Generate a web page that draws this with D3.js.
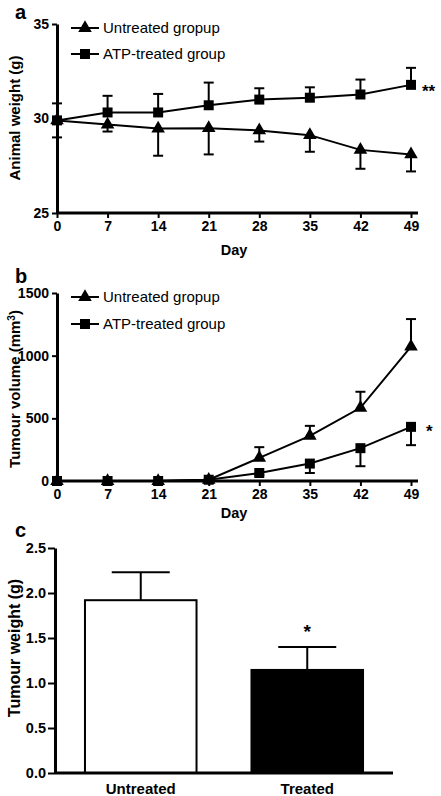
<!DOCTYPE html>
<html><head><meta charset="utf-8">
<script src="https://cdn.jsdelivr.net/npm/d3@7"></script>
<style>
body{margin:0;background:#fff;}
svg{display:block;font-family:"Liberation Sans",Arial,sans-serif;}
</style></head>
<body><svg id="c" width="441" height="796"></svg>
<script>
// ---- data ----
const days = [0, 7, 14, 21, 28, 35, 42, 49];
const weightUntreated = [29.9, 29.68, 29.47, 29.49, 29.37, 29.12, 28.34, 28.1];
const weightUntreatedErr = [0.9, 0.37, 1.44, 1.39, 0.59, 0.88, 1.0, 0.9];
const weightTreated = [29.9, 30.32, 30.32, 30.7, 31.0, 31.1, 31.27, 31.78];
const weightTreatedErr = [0.9, 0.88, 0.98, 1.2, 0.6, 0.55, 0.79, 0.9];
const volUntreated = [0, 0, 0, 10, 184, 360, 584, 1073];
const volUntreatedErr = [0, 0, 0, 5, 86, 80, 128, 219];
const volTreated = [0, 0, 0, 10, 64, 139, 262, 432];
const volTreatedErr = [0, 0, 0, 5, 15, 75, 144, 146];
const barCategories = ["Untreated", "Treated"];
const barValues = [1.92, 1.145];
const barErr = [0.31, 0.255];
const weightTicks = [25, 30, 35];
const volTicks = [0, 500, 1000, 1500];
const barTicks = [0, 0.5, 1.0, 1.5, 2.0, 2.5];
const seriesNames = ["Untreated gropup", "ATP-treated group"];

const svg = d3.select("#c");
const tri = d3.symbol().type(d3.symbolTriangle).size(80);
const sq = d3.symbol().type(d3.symbolSquare).size(100);
const LW = 2;

function styleAxis(g, fs) {
  g.selectAll("path.domain").attr("stroke", "#000").attr("stroke-width", 3);
  g.selectAll(".tick line").attr("stroke", "#000").attr("stroke-width", 2);
  g.selectAll(".tick text").attr("font-family", "Liberation Sans, Arial, sans-serif")
    .attr("font-weight", "bold").attr("font-size", fs).attr("fill", "#000");
}

function linePanel(opts) {
  const g = svg.append("g");
  const x = d3.scaleLinear().domain([0, 49]).range([57, 411]);
  const y = d3.scaleLinear().domain(opts.ydomain).range(opts.yrange);
  // axes
  const xa = g.append("g").attr("transform", `translate(0,${y(opts.ydomain[0])})`)
    .call(d3.axisBottom(x).tickValues(days).tickSize(5).tickSizeOuter(0).tickPadding(3));
  xa.select("path.domain").attr("d", `M${x(0)},0H${x(49) + 7}`);
  styleAxis(xa, 14);
  const ya = g.append("g").attr("transform", `translate(${x(0)},0)`)
    .call(d3.axisLeft(y).tickValues(opts.yticks).tickFormat(d3.format("d")).tickSize(5).tickSizeOuter(0).tickPadding(3));
  styleAxis(ya, 14);
  // series
  const series = [
    {v: opts.u, e: opts.ue, dir: opts.udir, sym: tri},
    {v: opts.t, e: opts.te, dir: opts.tdir, sym: sq}
  ];
  const line = d3.line().x((d, i) => x(days[i])).y(d => y(d));
  series.forEach(s => {
    g.append("path").datum(s.v).attr("d", line).attr("fill", "none")
      .attr("stroke", "#000").attr("stroke-width", LW);
    s.v.forEach((v, i) => {
      if (s.e[i] <= 0) return;
      const ye = y(v + s.dir * s.e[i]);
      g.append("line").attr("x1", x(days[i])).attr("x2", x(days[i]))
        .attr("y1", y(v)).attr("y2", ye).attr("stroke", "#000").attr("stroke-width", LW);
      g.append("line").attr("x1", x(days[i]) - 5).attr("x2", x(days[i]) + 5)
        .attr("y1", ye).attr("y2", ye).attr("stroke", "#000").attr("stroke-width", LW);
    });
    s.v.forEach((v, i) => {
      g.append("path").attr("d", s.sym()).attr("transform", `translate(${x(days[i])},${y(v)})`)
        .attr("fill", "#000");
    });
  });
  // legend
  [0, 1].forEach(k => {
    const ly = opts.legY[k];
    g.append("line").attr("x1", 71).attr("x2", 99).attr("y1", ly).attr("y2", ly)
      .attr("stroke", "#000").attr("stroke-width", LW);
    g.append("path").attr("d", (k === 0 ? tri : sq)()).attr("transform", `translate(85,${ly})`);
    g.append("text").attr("x", 103).attr("y", ly).attr("dy", "0.35em")
      .attr("font-size", 15).text(seriesNames[k]);
  });
  // labels
  g.append("text").attr("x", (x(0) + x(49)) / 2).attr("y", opts.dayY).attr("text-anchor", "middle")
    .attr("font-weight", "bold").attr("font-size", 14.5).text("Day");
  g.append("text").attr("x", 15).attr("y", opts.panelY).attr("font-weight", "bold")
    .attr("font-size", 20).text(opts.panel);
  const yl = g.append("text").attr("transform", `translate(20,${opts.ylabY}) rotate(-90)`)
    .attr("text-anchor", "middle").attr("font-weight", "bold").attr("font-size", 15);
  opts.ylab(yl);
  g.append("text").attr("x", opts.starX).attr("y", opts.starY).attr("font-weight", "bold")
    .attr("font-size", 17).text(opts.star);
}

linePanel({
  ydomain: [25, 35], yrange: [213, 24], yticks: weightTicks,
  u: weightUntreated, ue: weightUntreatedErr, udir: -1,
  t: weightTreated, te: weightTreatedErr, tdir: 1,
  legY: [28, 54], dayY: 255, panel: "a", panelY: 18.5, ylabY: 118,
  ylab: t => t.text("Animal weight (g)"),
  star: "**", starX: 422, starY: 97
});

linePanel({
  ydomain: [0, 1500], yrange: [481, 293], yticks: volTicks,
  u: volUntreated, ue: volUntreatedErr, udir: 1,
  t: volTreated, te: volTreatedErr, tdir: -1,
  legY: [297, 324], dayY: 518, panel: "b", panelY: 283, ylabY: 389,
  ylab: t => { t.text("Tumour volume (mm");
    t.append("tspan").attr("baseline-shift", "super").attr("font-size", 10).text("3");
    t.append("tspan").text(")"); },
  star: "*", starX: 426, starY: 437
});

// ---- panel c ----
(function () {
  const g = svg.append("g");
  const x = d3.scaleBand().domain(barCategories).range([55, 393]).paddingInner(0.33).paddingOuter(0.18);
  const y = d3.scaleLinear().domain([0, 2.5]).range([773, 548]);
  barCategories.forEach((c, i) => {
    const bx = x(c), bw = x.bandwidth(), cx = bx + bw / 2;
    const top = y(barValues[i]), et = y(barValues[i] + barErr[i]);
    g.append("line").attr("x1", cx).attr("x2", cx).attr("y1", top).attr("y2", et)
      .attr("stroke", "#000").attr("stroke-width", 2);
    g.append("line").attr("x1", cx - 29).attr("x2", cx + 29).attr("y1", et).attr("y2", et)
      .attr("stroke", "#000").attr("stroke-width", 2);
    g.append("rect").attr("x", bx).attr("y", top).attr("width", bw).attr("height", y(0) - top)
      .attr("fill", i === 0 ? "#fff" : "#000").attr("stroke", "#000").attr("stroke-width", 2);
  });
  const xa = g.append("g").attr("transform", `translate(0,${y(0)})`)
    .call(d3.axisBottom(x).tickSize(0).tickSizeOuter(0).tickPadding(10));
  xa.select("path.domain").attr("d", "M55,0H393");
  styleAxis(xa, 15);
  const ya = g.append("g").attr("transform", "translate(55,0)")
    .call(d3.axisLeft(y).tickValues(barTicks).tickFormat(d3.format(".1f")).tickSize(7).tickSizeOuter(0).tickPadding(2));
  styleAxis(ya, 14.5);
  g.append("text").attr("x", x("Treated") + x.bandwidth() / 2).attr("y", 638).attr("text-anchor", "middle")
    .attr("font-weight", "bold").attr("font-size", 19).text("*");
  g.append("text").attr("x", 15).attr("y", 537).attr("font-weight", "bold").attr("font-size", 20).text("c");
  g.append("text").attr("transform", "translate(20,648) rotate(-90)").attr("text-anchor", "middle")
    .attr("font-weight", "bold").attr("font-size", 16).text("Tumour weight (g)");
})();
</script></body></html>
